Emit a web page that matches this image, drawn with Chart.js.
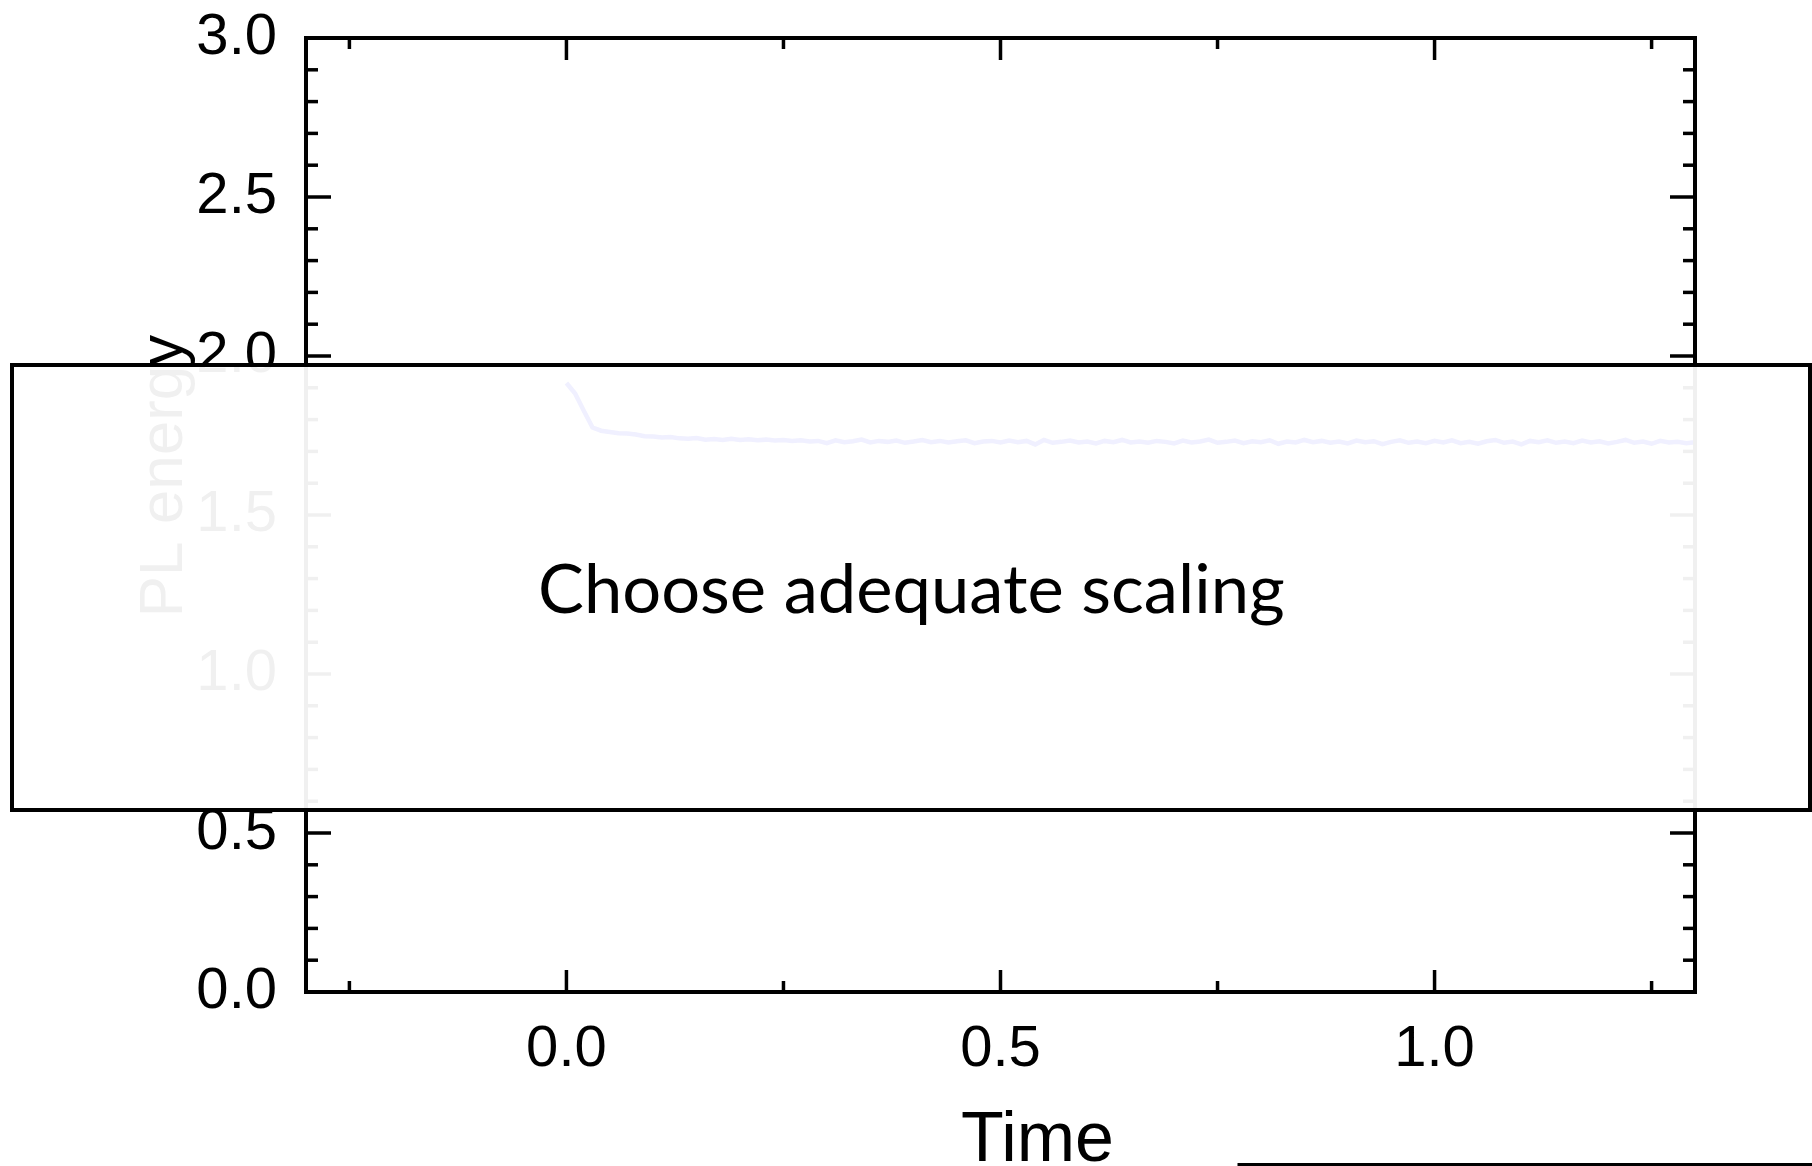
<!DOCTYPE html>
<html>
<head>
<meta charset="utf-8">
<script src="https://cdn.jsdelivr.net/npm/chart.js@4.4.1/dist/chart.umd.min.js"></script>
<style>
  html, body { margin: 0; padding: 0; background: #fff; }
  canvas { display: block; }
</style>
</head>
<body>
<canvas id="grafica" width="1812" height="1166"></canvas>
<script>
// tiempo de la medida y energia del PL en cada instante
const tiempos = [
  0.00, 0.01, 0.02, 0.03, 0.04, 0.05, 0.06, 0.07, 0.08, 0.09,
  0.10, 0.11, 0.12, 0.13, 0.14, 0.15, 0.16, 0.17, 0.18, 0.19,
  0.20, 0.21, 0.22, 0.23, 0.24, 0.25, 0.26, 0.27, 0.28, 0.29,
  0.30, 0.31, 0.32, 0.33, 0.34, 0.35, 0.36, 0.37, 0.38, 0.39,
  0.40, 0.41, 0.42, 0.43, 0.44, 0.45, 0.46, 0.47, 0.48, 0.49,
  0.50, 0.51, 0.52, 0.53, 0.54, 0.55, 0.56, 0.57, 0.58, 0.59,
  0.60, 0.61, 0.62, 0.63, 0.64, 0.65, 0.66, 0.67, 0.68, 0.69,
  0.70, 0.71, 0.72, 0.73, 0.74, 0.75, 0.76, 0.77, 0.78, 0.79,
  0.80, 0.81, 0.82, 0.83, 0.84, 0.85, 0.86, 0.87, 0.88, 0.89,
  0.90, 0.91, 0.92, 0.93, 0.94, 0.95, 0.96, 0.97, 0.98, 0.99,
  1.00, 1.01, 1.02, 1.03, 1.04, 1.05, 1.06, 1.07, 1.08, 1.09,
  1.10, 1.11, 1.12, 1.13, 1.14, 1.15, 1.16, 1.17, 1.18, 1.19,
  1.20, 1.21, 1.22, 1.23, 1.24, 1.25, 1.26, 1.27, 1.28, 1.29,
  1.30
]
const energiaPL = [
  1.915, 1.882, 1.828, 1.775, 1.765, 1.761, 1.757, 1.756, 1.753, 1.748,
  1.747, 1.744, 1.745, 1.741, 1.740, 1.742, 1.737, 1.739, 1.736, 1.740,
  1.736, 1.738, 1.735, 1.737, 1.734, 1.736, 1.733, 1.735, 1.731, 1.733,
  1.726, 1.735, 1.729, 1.732, 1.737, 1.728, 1.733, 1.730, 1.734, 1.727,
  1.731, 1.736, 1.729, 1.733, 1.728, 1.732, 1.735, 1.726, 1.731, 1.733,
  1.728, 1.734, 1.729, 1.733, 1.722, 1.736, 1.727, 1.730, 1.734, 1.728,
  1.731, 1.725, 1.733, 1.729, 1.736, 1.728, 1.731, 1.727, 1.733, 1.730,
  1.725, 1.734, 1.728, 1.731, 1.737, 1.727, 1.730, 1.734, 1.726, 1.732,
  1.729, 1.735, 1.724, 1.731, 1.728, 1.736, 1.729, 1.733, 1.727, 1.731,
  1.725, 1.734, 1.729, 1.732, 1.723, 1.730, 1.735, 1.727, 1.731, 1.726,
  1.733, 1.728, 1.735, 1.726, 1.730, 1.724, 1.732, 1.736, 1.727, 1.731,
  1.722, 1.733, 1.729, 1.735, 1.727, 1.731, 1.726, 1.734, 1.728, 1.732,
  1.725, 1.730, 1.736, 1.727, 1.731, 1.724, 1.733, 1.728, 1.730, 1.726,
  1.729
]

// marcas con etiqueta y marcas menores de cada eje
const etiquetasX = [0.0, 0.5, 1.0]
const menoresX = [-0.25, 0.25, 0.75, 1.25]
const etiquetasY = [0.0, 0.5, 1.0, 1.5, 2.0, 2.5, 3.0]
const menoresY = [
  0.1, 0.2, 0.3, 0.4, 0.6, 0.7, 0.8, 0.9, 1.1, 1.2, 1.3, 1.4,
  1.6, 1.7, 1.8, 1.9, 2.1, 2.2, 2.3, 2.4, 2.6, 2.7, 2.8, 2.9
]

const fuente = '"Liberation Sans", Arial, sans-serif'

// marco cerrado con marcas hacia dentro en los cuatro lados, y titulos de ejes
const marco = {
  id: 'marco',
  afterDraw: (chart) => {
    const { ctx, chartArea: a } = chart
    const x = chart.scales.x
    const y = chart.scales.y
    const rayita = (x1, y1, x2, y2) => {
      ctx.beginPath()
      ctx.moveTo(x1, y1)
      ctx.lineTo(x2, y2)
      ctx.stroke()
    }
    ctx.save()
    ctx.strokeStyle = '#000'
    ctx.lineWidth = 3.5
    etiquetasX.forEach(v => {
      let px = x.getPixelForValue(v)
      rayita(px, a.bottom, px, a.bottom - 22)
      rayita(px, a.top, px, a.top + 22)
    })
    menoresX.forEach(v => {
      let px = x.getPixelForValue(v)
      rayita(px, a.bottom, px, a.bottom - 11)
      rayita(px, a.top, px, a.top + 11)
    })
    etiquetasY.forEach(v => {
      let py = y.getPixelForValue(v)
      rayita(a.left, py, a.left + 25, py)
      rayita(a.right, py, a.right - 25, py)
    })
    menoresY.forEach(v => {
      let py = y.getPixelForValue(v)
      rayita(a.left, py, a.left + 12, py)
      rayita(a.right, py, a.right - 12, py)
    })
    ctx.lineWidth = 4
    ctx.strokeRect(a.left, a.top, a.right - a.left, a.bottom - a.top)

    ctx.fillStyle = '#000'
    ctx.textAlign = 'center'
    ctx.textBaseline = 'alphabetic'
    ctx.font = '70px ' + fuente
    ctx.fillText('Time', (a.left + a.right) / 2 + 37, 1161)

    ctx.translate(182, 476)
    ctx.rotate(-Math.PI / 2)
    ctx.font = '62px ' + fuente
    ctx.fillText('PL energy', 0, 0)
    ctx.restore()
  }
}

// ventana de aviso por encima de la grafica
const aviso = {
  id: 'aviso',
  afterDraw: (chart) => {
    const { ctx } = chart
    ctx.save()
    ctx.fillStyle = 'rgba(255, 255, 255, 0.94)'
    ctx.fillRect(12, 365, 1798, 445)
    ctx.strokeStyle = '#000'
    ctx.lineWidth = 4
    ctx.strokeRect(12, 365, 1798, 445)

    // el texto se ajusta al ancho que ocupa en la ventana
    const texto = 'Choose adequate scaling'
    ctx.font = '100px Lato, "Open Sans", sans-serif'
    let tam = 100 * 747 / ctx.measureText(texto).width
    ctx.font = tam.toFixed(1) + 'px Lato, "Open Sans", sans-serif'
    ctx.fillStyle = '#000'
    ctx.textAlign = 'left'
    ctx.textBaseline = 'alphabetic'
    ctx.fillText(texto, 538, 613)

    // borde de la siguiente ventana, abajo a la derecha
    ctx.fillStyle = '#fff'
    ctx.fillRect(1239, 1164, 600, 40)
    ctx.lineWidth = 3
    ctx.strokeRect(1239, 1164.5, 600, 40)
    ctx.restore()
  }
}

new Chart(document.getElementById('grafica'), {
  type: 'line',
  data: {
    datasets: [{
      label: 'PL energy',
      data: tiempos.map((t, i) => ({ x: t, y: energiaPL[i] })),
      borderColor: 'rgb(10, 10, 245)',
      borderWidth: 4.5,
      pointRadius: 0,
      tension: 0
    }]
  },
  options: {
    responsive: false,
    animation: false,
    layout: { padding: { left: 0, top: 38, right: 117, bottom: 0 } },
    plugins: {
      legend: { display: false },
      tooltip: { enabled: false }
    },
    scales: {
      x: {
        type: 'linear',
        min: -0.3,
        max: 1.3,
        afterBuildTicks: (s) => { s.ticks = etiquetasX.map(v => ({ value: v })) },
        afterFit: (s) => {
          s.height = 174
          s.paddingLeft = 0
          s.paddingRight = 0
        },
        grid: { display: false, drawTicks: false },
        border: { display: false },
        ticks: {
          padding: 23,
          color: '#000',
          maxRotation: 0,
          autoSkip: false,
          font: { family: fuente, size: 58 },
          callback: (v) => Number(v).toFixed(1)
        }
      },
      y: {
        min: 0,
        max: 3,
        afterBuildTicks: (s) => { s.ticks = etiquetasY.map(v => ({ value: v })) },
        afterFit: (s) => {
          s.width = 306
          s.paddingTop = 0
          s.paddingBottom = 0
        },
        grid: { display: false, drawTicks: false },
        border: { display: false },
        ticks: {
          padding: 29,
          color: '#000',
          autoSkip: false,
          font: { family: fuente, size: 58 },
          callback: (v) => Number(v).toFixed(1)
        }
      }
    }
  },
  plugins: [marco, aviso]
})
</script>
</body>
</html>
